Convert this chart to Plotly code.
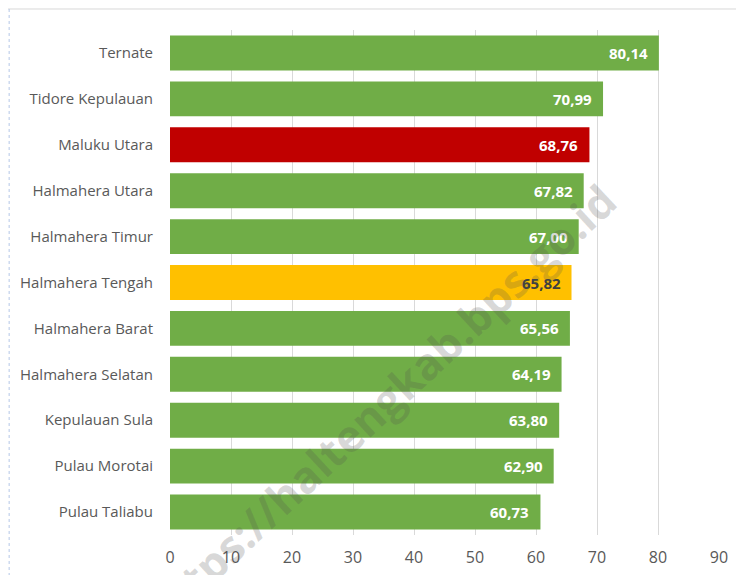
import plotly.graph_objects as go

# data
regions = ["Ternate", "Tidore Kepulauan", "Maluku Utara", "Halmahera Utara",
           "Halmahera Timur", "Halmahera Tengah", "Halmahera Barat",
           "Halmahera Selatan", "Kepulauan Sula", "Pulau Morotai", "Pulau Taliabu"]
values = [80.14, 70.99, 68.76, 67.82, 67.00, 65.82, 65.56, 64.19, 63.80, 62.90, 60.73]
x_ticks = [0, 10, 20, 30, 40, 50, 60, 70, 80, 90]

GREEN = "#70AD47"
RED = "#C00000"
YELLOW = "#FFC000"


def bar_color(name):
    if name == "Maluku Utara":
        return RED
    if name == "Halmahera Tengah":
        return YELLOW
    return GREEN


def label_color(name):
    return "#404040" if name == "Halmahera Tengah" else "white"


colors = [bar_color(r) for r in regions]

fig = go.Figure()
fig.add_trace(go.Bar(
    x=values, y=regions, orientation="h",
    marker=dict(color=colors, line=dict(width=0)),
    showlegend=False, hoverinfo="skip",
))

# value labels inside the bar end
for r, v in zip(regions, values):
    fig.add_annotation(
        x=v, y=r, text=f"{v:.2f}".replace(".", ","),
        xanchor="right", xshift=-9, showarrow=False,
        font=dict(family="Open Sans", size=15, color=label_color(r), weight="bold"),
    )

# watermark
fig.add_annotation(
    xref="paper", yref="paper", x=0.383, y=0.257,
    xanchor="center", yanchor="middle",
    text="https://haltengkab.bps.go.id", textangle=-43, showarrow=False,
    font=dict(family="Open Sans", size=44, color="rgba(80,80,80,0.22)", weight="bold"),
)

# chart frame edges
fig.add_shape(type="line", xref="paper", yref="paper",
              x0=-0.295, x1=1.1, y0=1.0416, y1=1.0416,
              line=dict(color="#d9d9d9", width=1))
fig.add_shape(type="line", xref="paper", yref="paper",
              x0=-0.293, x1=-0.293, y0=1.0416, y1=-0.08,
              line=dict(color="#b4c7e7", width=1, dash="dot"))

# page body adds 8px offset, so the figure is slightly smaller
fig.update_layout(
    width=736, height=567,
    margin=dict(l=162, r=25, t=22, b=40),
    plot_bgcolor="white", paper_bgcolor="white",
    bargap=0.24,
    font=dict(family="Open Sans", color="#595959"),
    xaxis=dict(
        range=[0, 90], tickvals=x_ticks, showgrid=True, gridcolor="#d9d9d9",
        gridwidth=1, zeroline=False, showline=False, automargin=False,
        tickfont=dict(size=16, color="#595959"), ticklabelstandoff=11,
    ),
    yaxis=dict(
        categoryorder="array", categoryarray=regions[::-1],
        showgrid=False, zeroline=False, showline=False, automargin=False,
        tickfont=dict(size=15, color="#595959"), ticklabelstandoff=16,
    ),
)

fig.write_html("out.html")
